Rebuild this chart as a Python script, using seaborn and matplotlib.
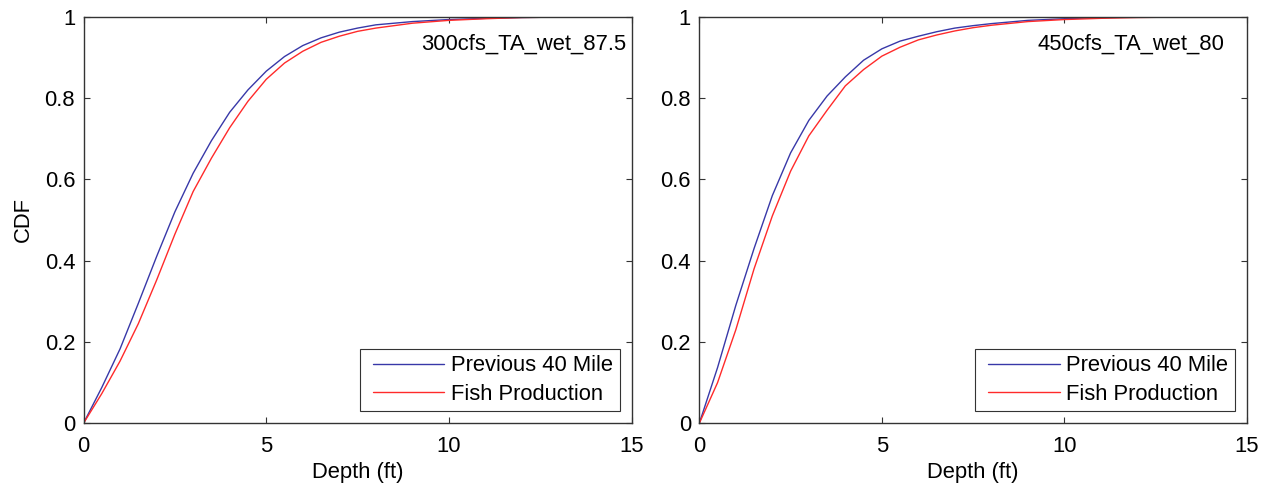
import numpy as np
import pandas as pd
import seaborn as sns
import matplotlib
matplotlib.use("Agg")
import matplotlib.pyplot as plt
from matplotlib.ticker import FuncFormatter
from matplotlib.legend_handler import HandlerLine2D

# ---- data ----
depth = [0, 0.5, 1, 1.5, 2, 2.5, 3, 3.5, 4, 4.5, 5, 5.5, 6, 6.5, 7, 7.5, 8, 9, 10, 11, 12, 13, 14, 15]

left_previous = [0, 0.088, 0.183, 0.295, 0.41, 0.52, 0.615, 0.695, 0.765, 0.82, 0.866, 0.902, 0.929, 0.948,
                 0.962, 0.972, 0.98, 0.988, 0.993, 0.996, 0.998, 0.999, 1.0, 1.0]
left_fish = [0, 0.073, 0.153, 0.245, 0.352, 0.465, 0.57, 0.652, 0.727, 0.792, 0.846, 0.886, 0.915, 0.937,
             0.952, 0.964, 0.972, 0.984, 0.991, 0.995, 0.998, 0.999, 1.0, 1.0]

right_previous = [0, 0.137, 0.29, 0.43, 0.56, 0.665, 0.745, 0.805, 0.852, 0.893, 0.921, 0.94, 0.952, 0.963,
                  0.972, 0.978, 0.983, 0.991, 0.995, 0.998, 0.999, 1.0, 1.0, 1.0]
right_fish = [0, 0.1, 0.23, 0.38, 0.51, 0.62, 0.707, 0.77, 0.83, 0.87, 0.903, 0.925, 0.943, 0.955,
              0.965, 0.973, 0.979, 0.988, 0.993, 0.996, 0.998, 0.999, 1.0, 1.0]

series_names = ["Previous 40 Mile", "Fish Production"]
panel_titles = ["300cfs_TA_wet_87.5", "450cfs_TA_wet_80"]
x_ticks = [0, 5, 10, 15]
y_ticks = [0, 0.2, 0.4, 0.6, 0.8, 1]
colors = {"Previous 40 Mile": "#3838a8", "Fish Production": "#ff2a2a"}

sns.set_style("ticks")
plt.rcParams["font.family"] = ["Liberation Sans", "DejaVu Sans"]
plt.rcParams["text.color"] = "black"
plt.rcParams["axes.labelcolor"] = "black"
plt.rcParams["xtick.color"] = "black"
plt.rcParams["ytick.color"] = "black"
FS = 15.8

fig = plt.figure(figsize=(12.7, 4.86), dpi=100)
W, H = 1270, 486
positions = [
    [83.5 / W, (H - 423.3) / H, (631.7 - 83.5) / W, (423.3 - 16.7) / H],
    [699.3 / W, (H - 423.3) / H, (1247.0 - 699.3) / W, (423.3 - 16.7) / H],
]
panels = [(left_previous, left_fish), (right_previous, right_fish)]

for i, (prev, fish) in enumerate(panels):
    ax = fig.add_axes(positions[i])
    df = pd.DataFrame({
        "Depth": depth * 2,
        "CDF": prev + fish,
        "Series": [series_names[0]] * len(depth) + [series_names[1]] * len(depth),
    })
    sns.lineplot(data=df, x="Depth", y="CDF", hue="Series", palette=colors,
                 hue_order=series_names, linewidth=1.0, ax=ax, legend=False)
    ax.set_xlim(0, 15)
    ax.set_ylim(0, 1)
    ax.set_xticks(x_ticks)
    ax.set_yticks(y_ticks)
    ax.xaxis.set_major_formatter(FuncFormatter(lambda v, p: f"{v:g}"))
    ax.yaxis.set_major_formatter(FuncFormatter(lambda v, p: f"{v:g}"))
    ax.tick_params(direction="in", length=4.5, width=0.8, color="#333333",
                   labelcolor="black", top=True, right=True, labelsize=FS, pad=6)
    ax.tick_params(axis="x", pad=9)
    for sp in ax.spines.values():
        sp.set_visible(True)
        sp.set_color("#333333")
        sp.set_linewidth(1.0)
    ax.set_xlabel("Depth (ft)", fontsize=FS, labelpad=4, color="black")
    if i == 0:
        ax.set_ylabel("CDF", fontsize=FS, labelpad=8, color="black")
    else:
        ax.set_ylabel("")
    ax.text(9.25, 0.933, panel_titles[i], fontsize=FS, ha="left", va="center", color="black")
    handles = [plt.Line2D([], [], color=colors[n], linewidth=1.0) for n in series_names]
    leg = ax.legend(handles, series_names, loc="lower right", fontsize=FS,
                    frameon=True, fancybox=False, edgecolor="#333333",
                    framealpha=1, borderaxespad=0.55, borderpad=0.3,
                    handlelength=3.55, handletextpad=0.3, labelspacing=0.33,
                    handler_map={plt.Line2D: HandlerLine2D(xpad=0.3)})
    leg.get_frame().set_linewidth(0.8)
    for t in leg.get_texts():
        t.set_color("black")

fig.savefig("out.png", dpi=100, facecolor="white")
